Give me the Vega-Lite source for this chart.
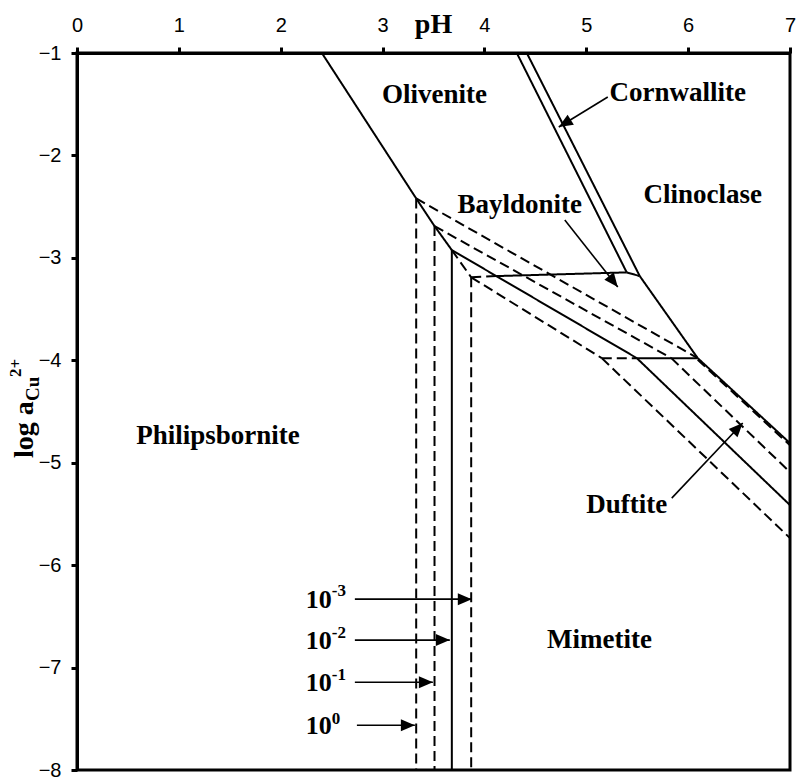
{
  "$schema": "https://vega.github.io/schema/vega-lite/v6.json",
  "width": 713,
  "height": 717,
  "autosize": {"type": "none"},
  "padding": {"left": 77, "top": 53, "right": 7, "bottom": 8},
  "background": "white",
  "config": {
    "view": {"stroke": "black", "strokeWidth": 3},
    "axis": {
      "grid": false,
      "domainColor": "black",
      "domainWidth": 3,
      "tickColor": "black",
      "tickWidth": 3,
      "tickSize": 6,
      "labelFont": "Liberation Sans",
      "labelFontSize": 20,
      "labelColor": "black",
      "labelFlush": false,
      "labelOverlap": false,
      "labelBound": false
    }
  },
  "datasets": {
    "seg": [
      {"x": 2.404, "y": -1, "x2": 3.33, "y2": -2.42, "s": "solid"},
      {"x": 3.33, "y": -2.42, "x2": 3.51, "y2": -2.69, "s": "solid"},
      {"x": 3.51, "y": -2.69, "x2": 3.68, "y2": -2.924, "s": "solid"},
      {"x": 3.68, "y": -2.924, "x2": 3.68, "y2": -8, "s": "solid"},
      {"x": 3.68, "y": -2.924, "x2": 5.496, "y2": -3.979, "s": "solid"},
      {"x": 5.496, "y": -3.979, "x2": 7, "y2": -5.414, "s": "solid"},
      {"x": 4.117, "y": -3.178, "x2": 5.397, "y2": -3.142, "s": "solid"},
      {"x": 4.318, "y": -1, "x2": 5.397, "y2": -3.142, "s": "solid"},
      {"x": 4.416, "y": -1, "x2": 5.525, "y2": -3.178, "s": "solid"},
      {"x": 5.397, "y": -3.142, "x2": 5.525, "y2": -3.178, "s": "solid"},
      {"x": 5.525, "y": -3.178, "x2": 6.094, "y2": -3.979, "s": "solid"},
      {"x": 6.094, "y": -3.979, "x2": 7, "y2": -4.809, "s": "solid"},
      {"x": 5.496, "y": -3.979, "x2": 6.094, "y2": -3.979, "s": "solid"},
      {"x": 3.33, "y": -2.42, "x2": 3.33, "y2": -8, "s": "dashed"},
      {"x": 3.51, "y": -2.69, "x2": 3.51, "y2": -8, "s": "dashed"},
      {"x": 3.87, "y": -3.19, "x2": 3.87, "y2": -8, "s": "dashed"},
      {"x": 3.68, "y": -2.924, "x2": 3.87, "y2": -3.19, "s": "dashed"},
      {"x": 3.87, "y": -3.19, "x2": 4.117, "y2": -3.178, "s": "dashed"},
      {"x": 3.87, "y": -3.19, "x2": 5.152, "y2": -3.979, "s": "dashed"},
      {"x": 5.152, "y": -3.979, "x2": 7, "y2": -5.736, "s": "dashed"},
      {"x": 5.152, "y": -3.979, "x2": 5.496, "y2": -3.979, "s": "dashed"},
      {"x": 3.33, "y": -2.42, "x2": 6.094, "y2": -3.979, "s": "dashed"},
      {"x": 6.094, "y": -3.995, "x2": 7, "y2": -4.83, "s": "dashed"},
      {"x": 3.51, "y": -2.69, "x2": 5.835, "y2": -3.979, "s": "dashed"},
      {"x": 5.835, "y": -3.979, "x2": 7, "y2": -5.092, "s": "dashed"}
    ],
    "arrows": [
      {"x": 4.73, "y": -1.723, "x2": 5.211, "y2": -1.43, "a": -121.5},
      {"x": 5.309, "y": -3.285, "x2": 4.789, "y2": -2.631, "a": 141.6},
      {"x": 6.536, "y": -4.613, "x2": 5.839, "y2": -5.346, "a": 43.4},
      {"x": 3.876, "y": -6.332, "x2": 2.728, "y2": -6.332, "a": 90},
      {"x": 3.66, "y": -6.732, "x2": 2.728, "y2": -6.732, "a": 90},
      {"x": 3.494, "y": -7.143, "x2": 2.728, "y2": -7.143, "a": 90},
      {"x": 3.317, "y": -7.563, "x2": 2.748, "y2": -7.563, "a": 90}
    ],
    "labels": [
      {"t": "Olivenite", "x": 3.51, "y": -1.41},
      {"t": "Cornwallite", "x": 5.898, "y": -1.39},
      {"t": "Clinoclase", "x": 6.143, "y": -2.387},
      {"t": "Bayldonite", "x": 4.347, "y": -2.484},
      {"t": "Philipsbornite", "x": 1.384, "y": -4.74},
      {"t": "Duftite", "x": 5.397, "y": -5.414},
      {"t": "Mimetite", "x": 5.13, "y": -6.73}
    ],
    "ten": [
      {"t": "10", "x": 2.247, "y": -6.342},
      {"t": "10", "x": 2.247, "y": -6.742},
      {"t": "10", "x": 2.247, "y": -7.152},
      {"t": "10", "x": 2.247, "y": -7.572}
    ],
    "sup": [
      {"t": "-3", "x": 2.502, "y": -6.254},
      {"t": "-2", "x": 2.502, "y": -6.664},
      {"t": "-1", "x": 2.502, "y": -7.074},
      {"t": "0", "x": 2.502, "y": -7.5}
    ],
    "ytitle": [
      {"t": "log a", "x": -0.432, "y": -4.955, "p": "main"},
      {"t": "Cu", "x": -0.373, "y": -4.398, "p": "sub"},
      {"t": "2+", "x": -0.55, "y": -4.164, "p": "sup"}
    ]
  },
  "encoding": {
    "x": {
      "field": "x", "type": "quantitative", "title": "pH",
      "scale": {"domain": [0, 7], "nice": false, "zero": false},
      "axis": {
        "orient": "top", "values": [0, 1, 2, 3, 4, 5, 6, 7], "labelPadding": 12,
        "title": "pH", "titleFont": "Liberation Serif", "titleFontWeight": "bold",
        "titleFontSize": 28, "titleColor": "black", "titleX": 356, "titleY": -21,
        "titleAlign": "center", "titleBaseline": "alphabetic", "titleAngle": 0
      }
    },
    "y": {
      "field": "y", "type": "quantitative",
      "scale": {"domain": [-8, -1], "nice": false, "zero": false},
      "axis": {"orient": "left", "values": [-1, -2, -3, -4, -5, -6, -7, -8], "labelPadding": 10, "title": null}
    }
  },
  "layer": [
    {
      "data": {"name": "seg"},
      "mark": {"type": "rule", "color": "black", "strokeWidth": 2},
      "encoding": {
        "x2": {"field": "x2"},
        "y2": {"field": "y2"},
        "strokeDash": {
          "field": "s", "type": "nominal",
          "scale": {"domain": ["solid", "dashed"], "range": [[1, 0], [10, 5]]},
          "legend": null
        }
      }
    },
    {
      "data": {"name": "arrows"},
      "mark": {"type": "rule", "color": "black", "strokeWidth": 1.6},
      "encoding": {
        "x2": {"field": "x2"},
        "y2": {"field": "y2"}
      }
    },
    {
      "data": {"name": "arrows"},
      "mark": {"type": "point", "shape": "M0,0L-0.6,1.4L0.6,1.4Z", "filled": true, "fill": "black", "opacity": 1, "size": 400, "strokeWidth": 0},
      "encoding": {
        "angle": {"field": "a", "type": "quantitative", "scale": null}
      }
    },
    {
      "data": {"name": "labels"},
      "mark": {"type": "text", "font": "Liberation Serif", "fontWeight": "bold", "fontSize": 27, "align": "center", "baseline": "middle", "color": "black"},
      "encoding": {"text": {"field": "t"}}
    },
    {
      "data": {"name": "ten"},
      "mark": {"type": "text", "font": "Liberation Serif", "fontWeight": "bold", "fontSize": 26, "align": "left", "baseline": "middle", "color": "black"},
      "encoding": {"text": {"field": "t"}}
    },
    {
      "data": {"name": "sup"},
      "mark": {"type": "text", "font": "Liberation Serif", "fontWeight": "bold", "fontSize": 17, "align": "left", "baseline": "middle", "color": "black"},
      "encoding": {"text": {"field": "t"}}
    },
    {
      "data": {"name": "ytitle"},
      "transform": [{"filter": "datum.p === 'main'"}],
      "mark": {"type": "text", "font": "Liberation Serif", "fontWeight": "bold", "fontSize": 28, "align": "left", "baseline": "alphabetic", "angle": 270, "color": "black"},
      "encoding": {"text": {"field": "t"}}
    },
    {
      "data": {"name": "ytitle"},
      "transform": [{"filter": "datum.p === 'sub'"}],
      "mark": {"type": "text", "font": "Liberation Serif", "fontWeight": "bold", "fontSize": 19, "align": "left", "baseline": "alphabetic", "angle": 270, "color": "black"},
      "encoding": {"text": {"field": "t"}}
    },
    {
      "data": {"name": "ytitle"},
      "transform": [{"filter": "datum.p === 'sup'"}],
      "mark": {"type": "text", "font": "Liberation Serif", "fontWeight": "bold", "fontSize": 17, "align": "left", "baseline": "alphabetic", "angle": 270, "color": "black"},
      "encoding": {"text": {"field": "t"}}
    }
  ]
}
